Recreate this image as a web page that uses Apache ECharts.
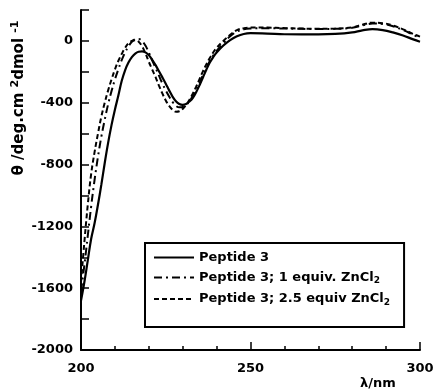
<!DOCTYPE html>
<html>
<head>
    <meta charset="utf-8">
    <title>CD spectra</title>
    <script src="https://cdn.jsdelivr.net/npm/echarts@6/dist/echarts.min.js"></script>
    <style>
        html, body { margin: 0; padding: 0; background: #fff; }
    </style>
</head>
<body>
<div id="main" style="width: 441px;height:390px;"></div>
<script type="text/javascript">
    // wavelength (nm)
    var wavelength = [200, 201, 202, 203, 204, 205, 206, 207, 208, 209,
        210, 211, 212, 213, 214, 215, 216, 217, 218, 219,
        220, 221, 222, 223, 224, 225, 226, 227, 228, 229,
        230, 231, 232, 233, 234, 235, 236, 237, 238, 239, 240,
        242, 244, 246, 248, 250, 255, 260, 265, 270, 275, 280, 283, 286, 289, 292, 295, 298, 300];

    // Peptide 3
    var peptide = [-1680, -1560, -1420, -1280, -1180, -1060, -930, -790, -660, -545,
        -445, -355, -260, -190, -140, -105, -82, -70, -68, -74,
        -92, -122, -157, -196, -236, -277, -320, -360, -390, -408,
        -414, -408, -392, -368, -330, -285, -235, -185, -140, -105, -75,
        -30, 5, 30, 45, 50, 47, 43, 42, 42, 45, 55, 68, 76, 70, 55, 35, 10, -5];

    // Peptide 3; 1 equiv. ZnCl2
    var zn1 = [-1620, -1450, -1260, -1070, -900, -750, -620, -510, -410, -325,
        -250, -185, -125, -75, -35, -5, 10, 12, 0, -30,
        -75, -125, -175, -225, -275, -320, -360, -395, -420, -430,
        -428, -415, -390, -355, -315, -270, -220, -175, -130, -95, -65,
        -15, 30, 60, 75, 80, 82, 80, 78, 77, 78, 85, 100, 112, 110, 95, 70, 40, 20];

    // Peptide 3; 2.5 equiv ZnCl2
    var zn25 = [-1560, -1300, -1060, -860, -720, -600, -490, -400, -320, -250,
        -185, -130, -85, -45, -15, 0, 5, -5, -35, -80,
        -135, -185, -235, -290, -340, -385, -420, -445, -458, -455,
        -440, -415, -380, -340, -295, -245, -195, -150, -110, -75, -45,
        0, 40, 70, 82, 86, 86, 83, 80, 79, 80, 88, 105, 118, 115, 100, 75, 45, 28];

    var seriesNames = ['Peptide 3', 'Peptide 3; 1 equiv. ZnCl2', 'Peptide 3; 2.5 equiv ZnCl2'];
    var legendLabels = ['Peptide 3', 'Peptide 3; 1 equiv. ZnCl{sub|2}', 'Peptide 3; 2.5 equiv ZnCl{sub|2}'];

    var xTicks = [200, 250, 300];
    var yTicks = [-2000, -1600, -1200, -800, -400, 0];

    function pairs(ys) {
        var out = [];
        for (var i = 0; i < wavelength.length; i++) {
            out.push([wavelength[i], ys[i]]);
        }
        return out;
    }

    var font = 'DejaVu Sans, sans-serif';
    var myChart = echarts.init(document.getElementById('main'));

    var option = {
        animation: false,
        grid: {
            left: 81,
            right: 21,
            top: 10,
            bottom: 40,
            outerBoundsMode: 'none'
        },
        legend: {
            orient: 'vertical',
            left: 145,
            top: 243,
            padding: [8, 14, 20, 8],
            itemGap: 7,
            itemWidth: 40,
            itemHeight: 14,
            borderColor: '#000',
            borderWidth: 2,
            itemStyle: {color: 'transparent', borderWidth: 0},
            data: seriesNames,
            formatter: function (name) {
                return legendLabels[seriesNames.indexOf(name)];
            },
            textStyle: {
                color: '#000',
                fontFamily: font,
                fontWeight: 'bold',
                fontSize: 13,
                rich: {
                    sub: {
                        color: '#000',
                        fontFamily: font,
                        fontWeight: 'bold',
                        fontSize: 9,
                        padding: [7, 0, 0, 0]
                    }
                }
            }
        },
        xAxis: {
            type: 'value',
            min: 200,
            max: 300,
            interval: 50,
            name: 'λ/nm',
            nameLocation: 'end',
            nameGap: -42,
            nameTextStyle: {
                color: '#000',
                fontFamily: font,
                fontWeight: 'bold',
                fontSize: 13,
                align: 'center',
                verticalAlign: 'top',
                padding: [27, 0, 0, 0]
            },
            axisLine: {onZero: false, lineStyle: {color: '#000', width: 2}},
            axisTick: {inside: true, length: 8, lineStyle: {color: '#000', width: 1.5}},
            minorTick: {show: true, splitNumber: 5, length: 4, lineStyle: {color: '#000', width: 1.5}},
            splitLine: {show: false},
            axisLabel: {
                color: '#000',
                fontFamily: font,
                fontWeight: 'bold',
                fontSize: 13,
                margin: 12,
                formatter: function (v) {
                    return xTicks.indexOf(v) >= 0 ? String(v) : '';
                }
            }
        },
        yAxis: {
            type: 'value',
            min: -2000,
            max: 200,
            interval: 200,
            axisLine: {show: true, lineStyle: {color: '#000', width: 2}},
            axisTick: {show: true, inside: true, length: 8, lineStyle: {color: '#000', width: 1.5}},
            splitLine: {show: false},
            axisLabel: {
                color: '#000',
                fontFamily: font,
                fontWeight: 'bold',
                fontSize: 13,
                margin: 8,
                formatter: function (v) {
                    return yTicks.indexOf(v) >= 0 ? String(v) : '';
                }
            }
        },
        graphic: [{
            type: 'text',
            x: 19,
            y: 98,
            rotation: Math.PI / 2,
            style: {
                text: 'θ /deg.cm {sup|2}dmol {sup|-1}',
                fill: '#000',
                fontFamily: font,
                fontWeight: 'bold',
                fontSize: 15,
                align: 'center',
                verticalAlign: 'middle',
                rich: {
                    sup: {
                        fill: '#000',
                        fontFamily: font,
                        fontWeight: 'bold',
                        fontSize: 11,
                        padding: [0, 0, 8, 0]
                    }
                }
            }
        }],
        series: [{
            name: seriesNames[0],
            type: 'line',
            data: pairs(peptide),
            symbol: 'none',
            smooth: 0.4,
            itemStyle: {color: '#000'},
            lineStyle: {color: '#000', width: 2.2, type: 'solid'}
        }, {
            name: seriesNames[1],
            type: 'line',
            data: pairs(zn1),
            symbol: 'none',
            smooth: 0.4,
            itemStyle: {color: '#000'},
            lineStyle: {color: '#000', width: 2, type: [8, 4, 2, 4]}
        }, {
            name: seriesNames[2],
            type: 'line',
            data: pairs(zn25),
            symbol: 'none',
            smooth: 0.4,
            itemStyle: {color: '#000'},
            lineStyle: {color: '#000', width: 2, type: [5, 3]}
        }]
    };
    myChart.setOption(option);
</script>
</body>
</html>
